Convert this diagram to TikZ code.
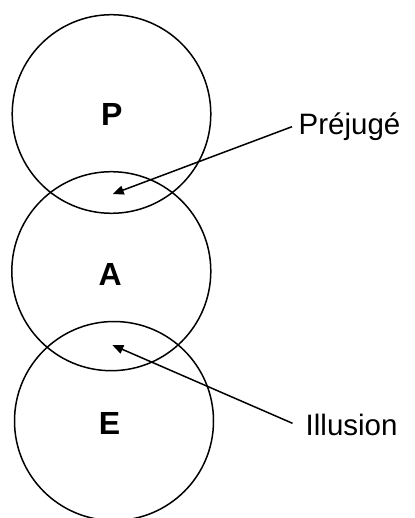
\documentclass[tikz,border=0pt]{standalone}
\usepackage{fontspec}
\setmainfont{Liberation Sans}
\usetikzlibrary{arrows.meta}
\begin{document}
\begin{tikzpicture}[x=1pt,y=-1pt,
  ring/.style={draw,line width=1.5pt},
  letter/.style={font=\fontsize{32}{36}\selectfont\bfseries,anchor=base,inner sep=0pt},
  lbl/.style={font=\fontsize{29.5}{34}\selectfont,anchor=base west,inner sep=0pt},
  pointer/.style={line width=1.5pt,-{Triangle[length=11pt,width=9pt]}}]
\useasboundingbox[fill=white] (0,0) rectangle (414,518);
\draw[ring] (111.5,114) circle[radius=99.3];
\draw[ring] (111.3,271.2) circle[radius=99.5];
\draw[ring] (114,421) circle[radius=99.5];
\node[letter] (P) at (111.7,126) {P};
\node[letter] (A) at (110.3,285) {A};
\node[letter] (E) at (109.5,434) {E};
\node[lbl] (prej) at (298.5,135) {Préjugé};
\node[lbl] (ill) at (305.5,435) {Illusion};
\coordinate (ps) at (292,126.7);
\coordinate (pt) at (112.7,194);
\coordinate (is) at (292.5,423.3);
\coordinate (it) at (112.3,345);
\draw[pointer] (ps) -- (pt);
\draw[pointer] (is) -- (it);
\end{tikzpicture}
\end{document}
